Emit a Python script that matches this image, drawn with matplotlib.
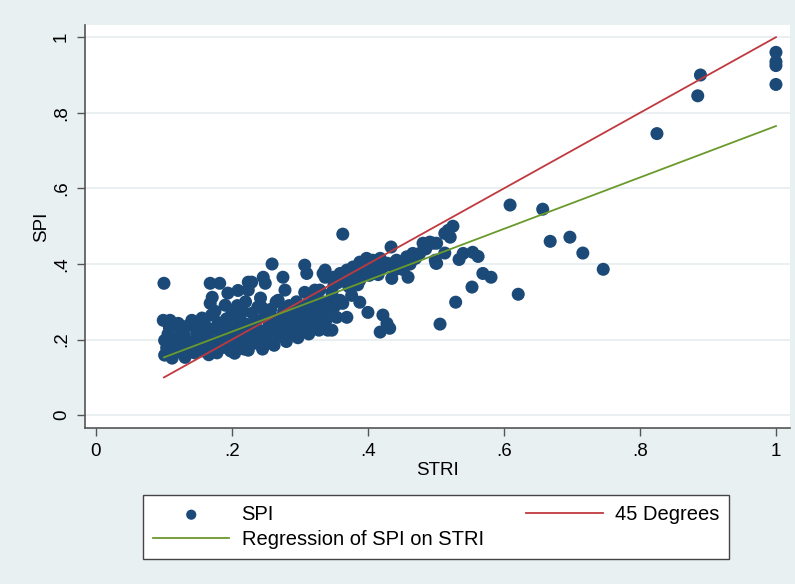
import matplotlib.pyplot as plt

plt.rcParams['font.family'] = ['Liberation Sans', 'DejaVu Sans']

# STRI / SPI points
stri = [0.100, 0.099, 0.109, 0.101, 0.101, 0.104, 0.106, 0.112, 0.108, 0.113,
        0.121, 0.118, 0.120, 0.125, 0.128, 0.131, 0.127, 0.133, 0.135, 0.130,
        0.141, 0.156, 0.143, 0.145, 0.148, 0.150, 0.152, 0.155, 0.158, 0.160,
        0.168, 0.182, 0.171, 0.168, 0.163, 0.165, 0.170, 0.172, 0.175, 0.178,
        0.180, 0.175, 0.166,
        0.185, 0.188, 0.190, 0.190, 0.192, 0.194, 0.196, 0.198, 0.200, 0.202,
        0.204, 0.205, 0.208, 0.210, 0.209,
        0.212, 0.215, 0.218, 0.220, 0.222, 0.224, 0.224, 0.226, 0.229, 0.224,
        0.230, 0.232, 0.235, 0.238, 0.238, 0.240, 0.242, 0.245, 0.246, 0.249,
        0.248, 0.250,
        0.253, 0.255, 0.257, 0.259, 0.260, 0.262, 0.265, 0.268, 0.268, 0.270,
        0.272, 0.274, 0.275, 0.276, 0.278, 0.280, 0.282, 0.284, 0.286, 0.288,
        0.290,
        0.292, 0.295, 0.297, 0.300, 0.303, 0.305, 0.307, 0.307, 0.310, 0.310,
        0.313, 0.315, 0.318, 0.320, 0.322, 0.322, 0.322, 0.325, 0.328, 0.329,
        0.330,
        0.334, 0.337, 0.337, 0.340, 0.341, 0.341, 0.345, 0.347, 0.347, 0.349,
        0.350, 0.354, 0.355, 0.359, 0.359, 0.363, 0.363, 0.329,
        0.365, 0.369, 0.369, 0.372, 0.376, 0.378, 0.380, 0.385, 0.388, 0.388,
        0.388, 0.392, 0.398, 0.398, 0.400, 0.402, 0.407, 0.410, 0.415, 0.418,
        0.418, 0.418, 0.422, 0.425, 0.428, 0.428, 0.432, 0.434, 0.435, 0.437,
        0.440,
        0.447, 0.450, 0.457, 0.459, 0.462, 0.466, 0.470, 0.476, 0.481, 0.485,
        0.491, 0.496, 0.499, 0.500, 0.501, 0.501, 0.506, 0.513, 0.513, 0.518,
        0.521, 0.525, 0.529,
        0.534, 0.540, 0.553, 0.554, 0.562, 0.569, 0.581, 0.609, 0.621, 0.657,
        0.668, 0.697, 0.716, 0.746, 0.825, 0.889, 0.885, 1.000, 1.000, 1.000,
        1.000,
        0.115, 0.138, 0.147, 0.162, 0.185, 0.195, 0.215, 0.228, 0.236, 0.252,
        0.258, 0.264, 0.280, 0.294, 0.300, 0.316, 0.333, 0.338, 0.352, 0.216,
        0.200, 0.244, 0.442, 0.452, 0.412, 0.395]
spi = [0.349, 0.251, 0.251, 0.198, 0.159, 0.178, 0.215, 0.151, 0.232, 0.190,
       0.243, 0.205, 0.168, 0.222, 0.185, 0.153, 0.200, 0.235, 0.172, 0.210,
       0.251, 0.257, 0.195, 0.165, 0.218, 0.180, 0.232, 0.200, 0.170, 0.240,
       0.349, 0.349, 0.312, 0.296, 0.215, 0.185, 0.265, 0.228, 0.195, 0.165,
       0.245, 0.275, 0.160,
       0.210, 0.180, 0.291, 0.180, 0.255, 0.323, 0.225, 0.170, 0.270, 0.205,
       0.164, 0.240, 0.290, 0.185, 0.330,
       0.258, 0.220, 0.175, 0.300, 0.240, 0.331, 0.172, 0.205, 0.352, 0.352,
       0.270, 0.190, 0.250, 0.286, 0.198, 0.225, 0.310, 0.175, 0.365, 0.349,
       0.260, 0.205,
       0.198, 0.240, 0.280, 0.400, 0.222, 0.185, 0.300, 0.304, 0.255, 0.210,
       0.235, 0.225, 0.365, 0.275, 0.331, 0.195, 0.250, 0.290, 0.215, 0.243,
       0.265,
       0.230, 0.300, 0.205, 0.280, 0.233, 0.255, 0.325, 0.397, 0.375, 0.290,
       0.215, 0.265, 0.240, 0.305, 0.331, 0.286, 0.243, 0.270, 0.225, 0.331,
       0.255,
       0.375, 0.384, 0.365, 0.283, 0.278, 0.225, 0.300, 0.325, 0.225, 0.365,
       0.345, 0.259, 0.350, 0.375, 0.304, 0.479, 0.296, 0.243,
       0.355, 0.384, 0.259, 0.340, 0.317, 0.392, 0.365, 0.345, 0.405, 0.357,
       0.299, 0.380, 0.415, 0.389, 0.272, 0.370, 0.410, 0.390, 0.372, 0.415,
       0.384, 0.220, 0.265, 0.395, 0.402, 0.243, 0.230, 0.445, 0.362, 0.402,
       0.385,
       0.405, 0.392, 0.419, 0.365, 0.400, 0.428, 0.415, 0.428, 0.455, 0.440,
       0.458, 0.455, 0.410, 0.402, 0.455, 0.402, 0.241, 0.481, 0.429, 0.489,
       0.471, 0.500, 0.299,
       0.412, 0.428, 0.339, 0.431, 0.420, 0.375, 0.365, 0.556, 0.320, 0.545,
       0.460, 0.471, 0.429, 0.386, 0.745, 0.900, 0.845, 0.960, 0.935, 0.925,
       0.875,
       0.175, 0.185, 0.240, 0.200, 0.240, 0.200, 0.190, 0.230, 0.215, 0.225,
       0.260, 0.240, 0.270, 0.250, 0.220, 0.285, 0.300, 0.250, 0.290, 0.275,
       0.230, 0.285, 0.410, 0.385, 0.395, 0.400]

# 45 degree line and fitted regression line (end points)
deg_x = [0.1, 1.0]
deg_y = [0.1, 1.0]
reg_x = [0.1, 1.0]
reg_y = [0.153, 0.765]

bg = '#e9f0f2'
fig = plt.figure(figsize=(7.95, 5.84), dpi=100, facecolor=bg)
ax = fig.add_axes([0.107, 0.267, 0.887, 0.690])
ax.set_facecolor('white')

for y in [0, 0.2, 0.4, 0.6, 0.8, 1.0]:
    ax.axhline(y, color='#e6eef0', lw=1.2, zorder=0)

sc = ax.scatter(stri, spi, s=88, color='#1b4a78', edgecolors='none', zorder=2)
l45, = ax.plot(deg_x, deg_y, color='#c0393f', lw=1.3, zorder=3)
lreg, = ax.plot(reg_x, reg_y, color='#6b9a2c', lw=1.3, zorder=3)

ax.set_xlim(-0.016, 1.021)
ax.set_ylim(-0.034, 1.032)
ticks = [0, 0.2, 0.4, 0.6, 0.8, 1.0]
labels = ['0', '.2', '.4', '.6', '.8', '1']
ax.set_xticks(ticks)
ax.set_xticklabels(labels)
ax.set_yticks(ticks)
ax.set_yticklabels(labels, rotation=90, va='center')
ax.tick_params(length=6, width=1, color='#555555', labelsize=13.5, pad=5)

for side in ['top', 'right']:
    ax.spines[side].set_visible(False)
for side in ['left', 'bottom']:
    ax.spines[side].set_color('#555555')
    ax.spines[side].set_linewidth(1.2)

ax.set_xlabel('STRI', fontsize=13.5, labelpad=1)
ax.set_ylabel('SPI', fontsize=13.5, labelpad=2)

leg = fig.legend(handles=[sc, lreg, l45], labels=['SPI', 'Regression of SPI on STRI', '45 Degrees'],
                 ncol=2, loc='center', bbox_to_anchor=(0.5484, 0.0976),
                 fontsize=14.5, frameon=True, fancybox=False,
                 handlelength=3.8, handletextpad=0.6, columnspacing=2.1,
                 borderpad=0.5, labelspacing=0.3, borderaxespad=0,
                 scatterpoints=1, markerscale=0.78)
leg.get_frame().set_edgecolor('#444444')
leg.get_frame().set_linewidth(1.0)
leg.get_frame().set_alpha(1)

fig.savefig('out.png', dpi=100, facecolor=bg)
